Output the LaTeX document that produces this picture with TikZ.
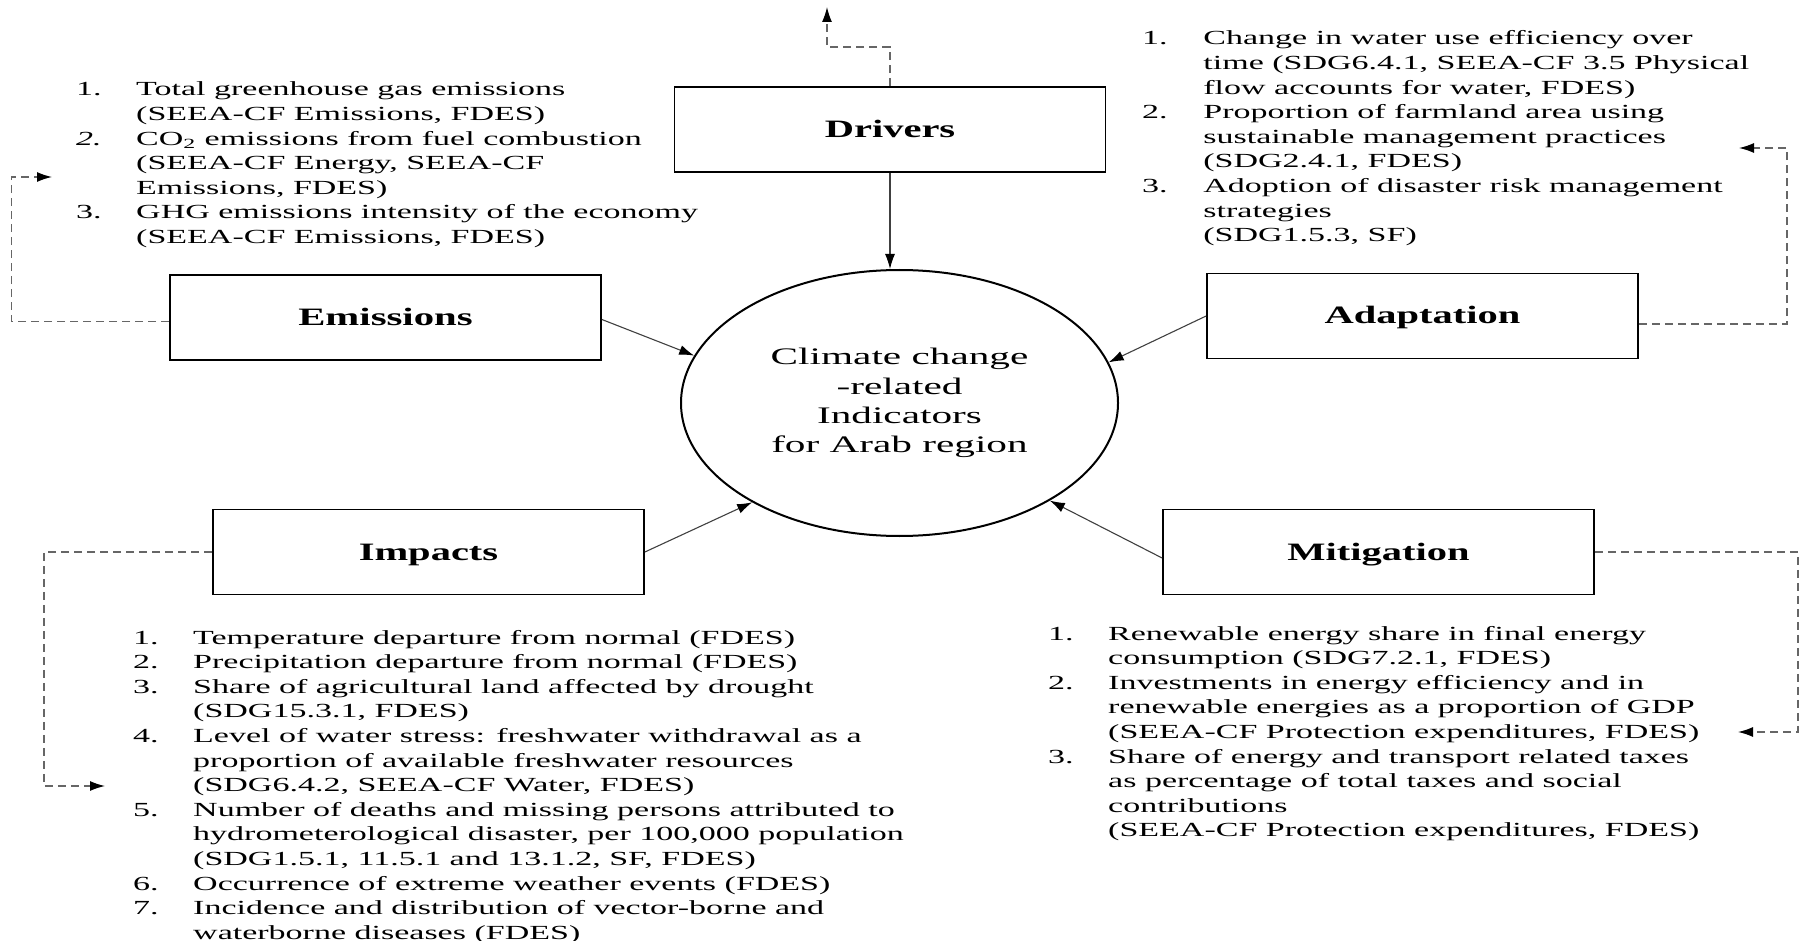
\documentclass[tikz,border=0pt]{standalone}
\usepackage{fontspec}
\setmainfont{Liberation Serif}
\usepackage{graphicx}
\usetikzlibrary{shapes.geometric,arrows.meta}

\tikzset{
  box/.style={draw=black, line width=1.8pt, minimum width=431pt, minimum height=85pt,
    inner sep=0pt, text height=20pt, text depth=4pt, font=\fontsize{25}{30}\selectfont\bfseries},
  hub/.style={draw=black, line width=2pt, ellipse, minimum width=437pt, minimum height=266pt,
    inner sep=0pt, font=\fontsize{23.7}{29.3}\selectfont},
  link/.style={draw=black!75, line width=1.1pt, -{Latex[length=15pt,width=10pt,color=black]}},
  loop/.style={draw=black!60, line width=1.3pt, dash pattern=on 8pt off 5pt,
    -{Latex[length=15pt,width=10pt,color=black]}},
  list/.style={inner sep=0pt, anchor=base west, font=\fontsize{20}{24.6}\selectfont},
}

\begin{document}
\begin{tikzpicture}[x=1pt, y=-1pt]
\useasboundingbox (0,0) rectangle (1805,941);

% central hub
\node[hub] (hub) at (899.5,403) {\raisebox{-2.5pt}{\scalebox{1.74}[1]{\begin{tabular}{@{}c@{}}Climate change\\-related\\Indicators\\for Arab region\end{tabular}}}};

% boxes
\node[box] (drv)  at (890,129.5)  {\scalebox{1.62}[1]{Drivers}};
\node[box] (emis) at (385.5,317.5){\scalebox{1.63}[1]{Emissions}};
\node[box] (adap) at (1422.5,316) {\scalebox{1.62}[1]{Adaptation}};
\node[box] (imp)  at (428.5,552)  {\scalebox{1.62}[1]{Impacts}};
\node[box] (mit)  at (1378.5,552) {\scalebox{1.62}[1]{Mitigation}};

% solid arrows into hub
\draw[link] (drv.south) -- (drv.south |- hub.north);
\draw[link] ([yshift=-2pt]emis.east) -- (hub.167);
\draw[link] (adap.west) -- (hub.11);
\draw[link] (imp.east)  -- (hub.214);
\draw[link] ([yshift=-6pt]mit.west)  -- (hub.327);

% lists
\node[list] (emlist) at (76,96) {\scalebox{1.70}[1]{\begin{tabular}[t]{@{}p{35.3pt}@{}l@{}}
1. & Total greenhouse gas emissions\\
   & (SEEA-CF Emissions, FDES)\\
\textit{2.} & CO\textsubscript{2} emissions from fuel combustion\\
   & (SEEA-CF Energy, SEEA-CF\\
   & Emissions, FDES)\\
3. & GHG emissions intensity of the economy\\
   & (SEEA-CF Emissions, FDES)
\end{tabular}}};

\node[list] (adlist) at (1142,45) {\scalebox{1.70}[1]{\begin{tabular}[t]{@{}p{36pt}@{}l@{}}
1. & Change in water use efficiency over\\
   & time (SDG6.4.1, SEEA-CF 3.5 Physical\\
   & flow accounts for water, FDES)\\
2. & Proportion of farmland area using\\
   & sustainable management practices\\
   & (SDG2.4.1, FDES)\\
3. & Adoption of disaster risk management\\
   & strategies\\
   & (SDG1.5.3, SF)
\end{tabular}}};

\node[list] (implist) at (133,644) {\scalebox{1.70}[1]{\begin{tabular}[t]{@{}p{35.3pt}@{}l@{}}
1. & Temperature departure from normal (FDES)\\
2. & Precipitation departure from normal (FDES)\\
3. & Share of agricultural land affected by drought\\
   & (SDG15.3.1, FDES)\\
4. & Level of water stress: freshwater withdrawal as a\\
   & proportion of available freshwater resources\\
   & (SDG6.4.2, SEEA-CF Water, FDES)\\
5. & Number of deaths and missing persons attributed to\\
   & hydrometerological disaster, per 100,000 population\\
   & (SDG1.5.1, 11.5.1 and 13.1.2, SF, FDES)\\
6. & Occurrence of extreme weather events (FDES)\\
7. & Incidence and distribution of vector-borne and\\
   & waterborne diseases (FDES)
\end{tabular}}};

\node[list] (mitlist) at (1048,640) {\scalebox{1.70}[1]{\begin{tabular}[t]{@{}p{35.3pt}@{}l@{}}
1. & Renewable energy share in final energy\\
   & consumption (SDG7.2.1, FDES)\\
2. & Investments in energy efficiency and in\\
   & renewable energies as a proportion of GDP\\
   & (SEEA-CF Protection expenditures, FDES)\\
3. & Share of energy and transport related taxes\\
   & as percentage of total taxes and social\\
   & contributions\\
   & (SEEA-CF Protection expenditures, FDES)
\end{tabular}}};

% dashed feedback connectors
\coordinate (drvEnd) at (827,7);
\coordinate (emEnd)  at (52,177);
\coordinate (adEnd)  at (1739,148);
\coordinate (impEnd) at (105,786);
\coordinate (mitEnd) at (1738,732);

\draw[loop] (drv.north) |- (827,47) -- (drvEnd);
\draw[loop] ([yshift=-4pt]emis.west) -| (11.5,177) -- (emEnd);
\draw[loop] ([yshift=-8pt]adap.east) -| (1787,148) -- (adEnd);
\draw[loop] (imp.west)  -| (44,786) -- (impEnd);
\draw[loop] (mit.east)  -| (1798,732) -- (mitEnd);
\end{tikzpicture}
\end{document}
